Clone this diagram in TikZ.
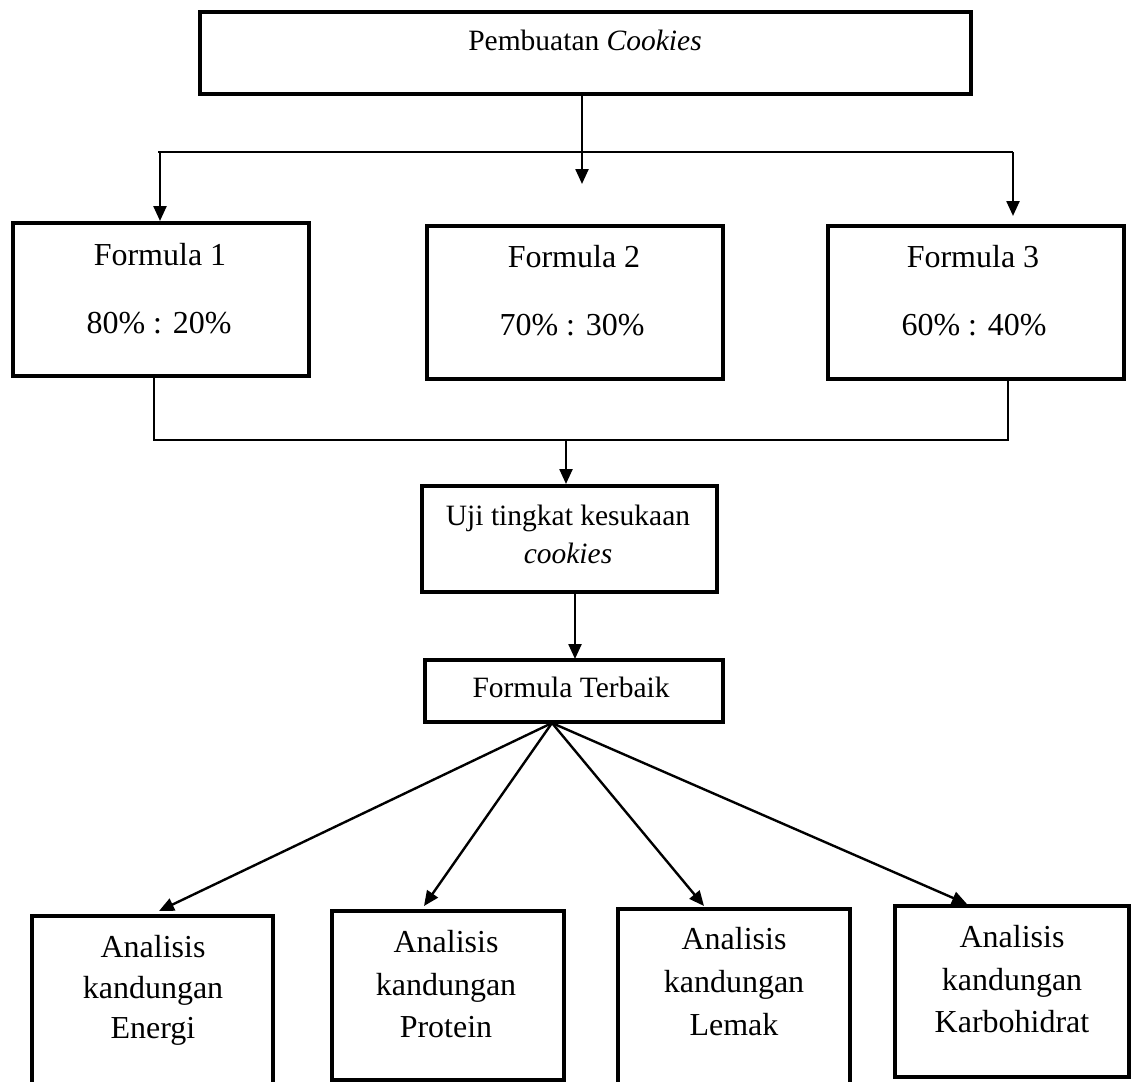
\documentclass[tikz,border=0pt]{standalone}
\usepackage{fontspec}
\setmainfont{Liberation Serif}
\usetikzlibrary{arrows.meta}
\tikzset{
  box/.style={draw=black, line width=4pt, rectangle, inner sep=0pt, outer sep=0pt, fill=none},
  big/.style={font=\fontsize{32}{38}\selectfont, anchor=base, inner sep=0pt},
  small/.style={font=\fontsize{29.5}{35}\selectfont, anchor=base, inner sep=0pt},
  conn/.style={line width=2.4pt},
  thin/.style={line width=1.8pt},
  arr/.style={line width=2.4pt, -{Triangle[length=15pt,width=13pt]}},
}
\begin{document}
\begin{tikzpicture}[x=1pt,y=-1pt]
\useasboundingbox (0,0) rectangle (1133,1082);
\clip (0,0) rectangle (1133,1082);
% boxes
\node[box, minimum width=771pt, minimum height=82pt] (top) at (585.5,52.5) {};
\node[small] (toptxt) at (585,50) {Pembuatan \textit{Cookies}};

\node[box, minimum width=296pt, minimum height=153pt] (f1) at (161,299.5) {};
\node[big] (f1a) at (160,265) {Formula 1};
\node[big] (f1b) at (159,333) {80\% : 20\%};

\node[box, minimum width=296pt, minimum height=153pt] (f2) at (575,302.5) {};
\node[big] (f2a) at (574,267) {Formula 2};
\node[big] (f2b) at (572,335) {70\% : 30\%};

\node[box, minimum width=296pt, minimum height=153pt] (f3) at (976,302.5) {};
\node[big] (f3a) at (973,267) {Formula 3};
\node[big] (f3b) at (974,335) {60\% : 40\%};

\node[box, minimum width=295pt, minimum height=106pt] (uji) at (569.5,539) {};
\node[small] (ujia) at (568,525) {Uji tingkat kesukaan};
\node[small] (ujib) at (568,563) {\textit{cookies}};

\node[box, minimum width=298pt, minimum height=62pt] (best) at (574,691) {};
\node[small] (besttxt) at (571,697) {Formula Terbaik};

\node[box, minimum width=241pt, minimum height=200pt] (en) at (152.5,1016) {};
\node[big] (en1) at (153,957) {Analisis};
\node[big] (en2) at (153,998) {kandungan};
\node[big] (en3) at (153,1038) {Energi};

\node[box, minimum width=232pt, minimum height=169pt] (pr) at (448,995.5) {};
\node[big] (pr1) at (446,952) {Analisis};
\node[big] (pr2) at (446,995) {kandungan};
\node[big] (pr3) at (446,1037) {Protein};

\node[box, minimum width=232pt, minimum height=174.5pt] (le) at (734,996.25) {};
\node[big] (le1) at (734,949) {Analisis};
\node[big] (le2) at (734,992) {kandungan};
\node[big] (le3) at (734,1035) {Lemak};

\node[box, minimum width=234pt, minimum height=171pt] (ka) at (1012,991.5) {};
\node[big] (ka1) at (1012,947) {Analisis};
\node[big] (ka2) at (1012,990) {kandungan};
\node[big] (ka3) at (1012,1032) {Karbohidrat};

% top distribution
\coordinate (topout) at (582,93.5);
\coordinate (midtip) at (582,184);
\coordinate (hl) at (158,152);
\coordinate (hr) at (1013,152);
\coordinate (f1tip) at (160,221);
\coordinate (f3tip) at (1013,216);
\draw[arr] (topout) -- (midtip);
\draw[thin] (hl) -- (hr);
\draw[arr] (hl -| f1tip) -- (f1tip);
\draw[arr] (hr) -- (f3tip);

% collecting
\coordinate (f1out) at (154,376);
\coordinate (f3out) at (1008,379);
\coordinate (cl) at (154,440);
\coordinate (cr) at (1008,440);
\coordinate (cm) at (566,440);
\coordinate (ujitip) at (566,484);
\draw[thin] (f1out) -- (cl) -- (cr) -- (f3out);
\draw[arr] (cm) -- (ujitip);

\coordinate (ujiout) at (575,592);
\coordinate (besttip) at (575,659);
\draw[arr] (ujiout) -- (besttip);

% fan
\coordinate (fan) at (552,723);
\coordinate (entip) at (159,911);
\coordinate (prtip) at (424,906);
\coordinate (letip) at (704,906);
\coordinate (katip) at (967,904);
\draw[arr] (fan) -- (entip);
\draw[arr] (fan) -- (prtip);
\draw[arr] (fan) -- (letip);
\draw[arr] (fan) -- (katip);
\end{tikzpicture}
\end{document}
